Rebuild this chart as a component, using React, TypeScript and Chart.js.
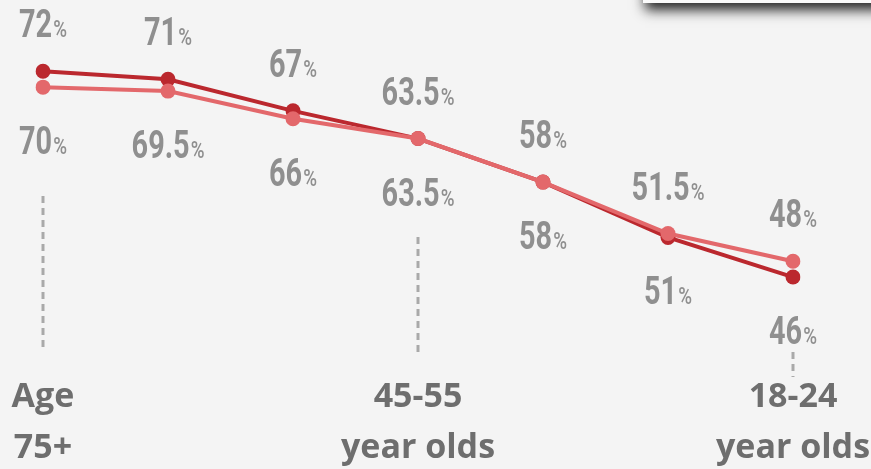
import React, { useEffect, useRef } from "react";
import { Chart, registerables } from "chart.js";

Chart.register(...registerables);

// ---- data ----
const categories: (string | string[])[] = [
  ["Age", "75+"],
  "",
  "",
  ["45-55", "year olds"],
  "",
  "",
  ["18-24", "year olds"],
];
const darkSeries = [72, 71, 67, 63.5, 58, 51, 46];
const lightSeries = [70, 69.5, 66, 63.5, 58, 51.5, 48];
const guideIndices = [0, 3, 6];

// ---- styles ----
const BG = "#f4f4f4";
const DARK = "#bb282e";
const LIGHT = "#e3686b";
const LABEL_GRAY = "#8f8f8f";
const AXIS_GRAY = "#6e6e6e";
const GUIDE_GRAY = "#a9a9a9";
const guideSpans: Record<number, [number, number]> = {
  0: [196, 352],
  3: [237, 352],
  6: [352, 377],
};

function drawPct(ctx: CanvasRenderingContext2D, text: string, cx: number, baseline: number) {
  const sx = 0.74;
  const numFont = "700 39px Roboto";
  const pctFont = "500 24px Roboto";
  ctx.font = numFont;
  const wNum = ctx.measureText(text).width * sx;
  ctx.font = pctFont;
  const wPct = ctx.measureText("%").width * 0.78;
  const gap = 1;
  const x0 = cx - (wNum + gap + wPct) / 2;
  ctx.fillStyle = LABEL_GRAY;
  ctx.textAlign = "left";
  ctx.textBaseline = "alphabetic";
  ctx.save();
  ctx.translate(x0, baseline);
  ctx.scale(sx, 1);
  ctx.font = numFont;
  ctx.fillText(text, 0, 0);
  ctx.restore();
  ctx.save();
  ctx.translate(x0 + wNum + gap, baseline);
  ctx.scale(0.78, 1);
  ctx.font = pctFont;
  ctx.fillText("%", 0, 0);
  ctx.restore();
}

const decoPlugin = {
  id: "deco",
  beforeDraw(chart: any) {
    const ctx = chart.ctx as CanvasRenderingContext2D;
    ctx.save();
    ctx.fillStyle = BG;
    ctx.fillRect(0, 0, chart.width, chart.height);
    // partial card in top-right corner with shadow
    ctx.shadowColor = "rgba(0,0,0,0.85)";
    ctx.shadowBlur = 12;
    ctx.shadowOffsetY = 7;
    ctx.shadowOffsetX = 2;
    ctx.fillStyle = "#fbfbfb";
    ctx.fillRect(643, -60, 260, 63);
    ctx.restore();
  },
  beforeDatasetsDraw(chart: any) {
    const ctx = chart.ctx as CanvasRenderingContext2D;
    const xs = chart.scales.x;
    ctx.save();
    ctx.strokeStyle = GUIDE_GRAY;
    ctx.lineWidth = 3;
    ctx.setLineDash([7, 5]);
    guideIndices.forEach((i) => {
      const span = guideSpans[i];
      if (!span) return;
      const x = xs.getPixelForValue(i);
      ctx.beginPath();
      ctx.moveTo(x, span[0]);
      ctx.lineTo(x, span[1]);
      ctx.stroke();
    });
    ctx.restore();
  },
  afterDatasetsDraw(chart: any) {
    const ctx = chart.ctx as CanvasRenderingContext2D;
    const xs = chart.scales.x;
    const ys = chart.scales.y;
    ctx.save();
    darkSeries.forEach((d, i) => {
      const l = lightSeries[i];
      const hi = Math.max(d, l);
      const lo = Math.min(d, l);
      const x = xs.getPixelForValue(i);
      drawPct(ctx, String(hi), x, ys.getPixelForValue(hi) - 34);
      drawPct(ctx, String(lo), x, ys.getPixelForValue(lo) + 67);
    });
    ctx.restore();
  },
};

export default function App() {
  const ref = useRef<HTMLCanvasElement | null>(null);
  useEffect(() => {
    if (!ref.current) return;
    const chart = new Chart(ref.current, {
      type: "line",
      data: {
        labels: categories as any,
        datasets: [
          {
            label: "dark",
            data: darkSeries,
            borderColor: DARK,
            backgroundColor: DARK,
            pointBackgroundColor: DARK,
            pointBorderWidth: 0,
            pointRadius: 7.5,
            borderWidth: 4,
            tension: 0,
            order: 1,
          },
          {
            label: "light",
            data: lightSeries,
            borderColor: LIGHT,
            backgroundColor: LIGHT,
            pointBackgroundColor: LIGHT,
            pointBorderWidth: 0,
            pointRadius: 7.5,
            borderWidth: 4,
            tension: 0,
            order: 0,
          },
        ],
      },
      options: {
        animation: false,
        responsive: false,
        devicePixelRatio: 1,
        layout: { padding: { left: 43, right: 78, top: 8, bottom: -5 } },
        plugins: { legend: { display: false }, tooltip: { enabled: false } },
        scales: {
          x: {
            offset: false,
            grid: { display: false, drawTicks: false },
            border: { display: false },
            ticks: {
              autoSkip: false,
              maxRotation: 0,
              padding: 0,
              color: AXIS_GRAY,
              font: { family: "'Open Sans'", weight: "bold", size: 34, lineHeight: 1.5 },
            },
          },
          y: { display: false, min: 34, max: 80 },
        },
      },
      plugins: [decoPlugin],
    });
    return () => chart.destroy();
  }, []);
  return (
    <div style={{ position: "absolute", left: 0, top: 0, width: 871, height: 469, background: BG }}>
      <canvas ref={ref} width={871} height={469} />
    </div>
  );
}
